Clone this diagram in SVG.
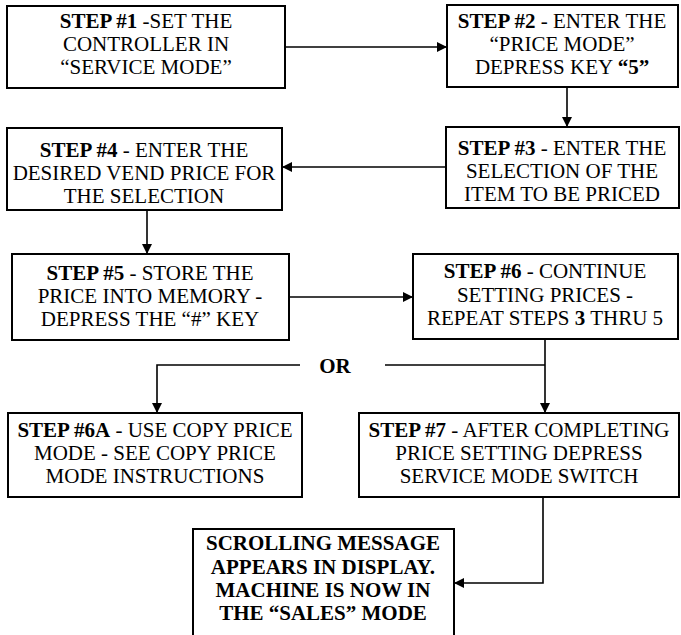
<svg xmlns="http://www.w3.org/2000/svg" width="681" height="635" viewBox="0 0 681 635">
<defs>
<marker id="ah" viewBox="0 0 10 10" refX="10" refY="5" markerWidth="10" markerHeight="10" markerUnits="userSpaceOnUse" orient="auto">
<path d="M0,0 L10,5 L0,10 z" fill="#000"/>
</marker>
<style>
.box{fill:#fff;stroke:#000;stroke-width:2}
.t{font-family:"Liberation Serif","Times New Roman",serif;font-size:21px;fill:#000;text-anchor:middle}
.b{font-weight:bold}
.c{fill:none;stroke:#000;stroke-width:1.6}
.ca{fill:none;stroke:#000;stroke-width:1.6;marker-end:url(#ah)}
</style>
</defs>
<rect width="681" height="635" fill="#fff"/>
<g id="connectors">
<line class="ca" x1="285" y1="47" x2="447" y2="47"/>
<line class="ca" x1="567" y1="87" x2="567" y2="127"/>
<line class="ca" x1="446" y1="167" x2="282" y2="167"/>
<line class="ca" x1="147" y1="210" x2="147" y2="254"/>
<line class="ca" x1="289" y1="297" x2="413" y2="297"/>
<line class="ca" x1="545" y1="339" x2="545" y2="413"/>
<line class="c" x1="545" y1="365" x2="385" y2="365"/>
<polyline class="ca" points="300,365 157,365 157,413"/>
<polyline class="ca" points="543,497 543,583 454,583"/>
<text class="t b" x="335" y="373">OR</text>
</g>
<g id="step1">
<rect class="box" x="7" y="6" width="278" height="82"/>
<text class="t" x="146" y="28"><tspan class="b">STEP #1</tspan> -SET THE</text>
<text class="t" x="146" y="51">CONTROLLER IN</text>
<text class="t" x="146" y="74">“SERVICE MODE”</text>
</g>
<g id="step2">
<rect class="box" x="447" y="5" width="231" height="82"/>
<text class="t" x="562" y="28"><tspan class="b">STEP #2</tspan> - ENTER THE</text>
<text class="t" x="562" y="51">“PRICE MODE”</text>
<text class="t" x="562" y="74">DEPRESS KEY <tspan class="b">“5”</tspan></text>
</g>
<g id="step3">
<rect class="box" x="446" y="127" width="233" height="81"/>
<text class="t" x="562" y="155"><tspan class="b">STEP #3</tspan> - ENTER THE</text>
<text class="t" x="562" y="178">SELECTION OF THE</text>
<text class="t" x="562" y="201">ITEM TO BE PRICED</text>
</g>
<g id="step4">
<rect class="box" x="7" y="128" width="275" height="82"/>
<text class="t" x="144" y="157"><tspan class="b">STEP #4</tspan> - ENTER THE</text>
<text class="t" x="144" y="180">DESIRED VEND PRICE FOR</text>
<text class="t" x="144" y="203">THE SELECTION</text>
</g>
<g id="step5">
<rect class="box" x="12" y="254" width="277" height="86"/>
<text class="t" x="150" y="280"><tspan class="b">STEP #5</tspan> - STORE THE</text>
<text class="t" x="150" y="303">PRICE INTO MEMORY -</text>
<text class="t" x="150" y="326">DEPRESS THE “#” KEY</text>
</g>
<g id="step6">
<rect class="box" x="413" y="254" width="265" height="85"/>
<text class="t" x="545" y="278"><tspan class="b">STEP #6</tspan> - CONTINUE</text>
<text class="t" x="545" y="302">SETTING PRICES -</text>
<text class="t" x="545" y="325">REPEAT STEPS <tspan class="b">3</tspan> THRU 5</text>
</g>
<g id="step6a">
<rect class="box" x="8" y="413" width="294" height="84"/>
<text class="t" x="155" y="437"><tspan class="b">STEP #6A</tspan> - USE COPY PRICE</text>
<text class="t" x="155" y="460">MODE - SEE COPY PRICE</text>
<text class="t" x="155" y="483">MODE INSTRUCTIONS</text>
</g>
<g id="step7">
<rect class="box" x="359" y="413" width="320" height="84"/>
<text class="t" x="519" y="437"><tspan class="b">STEP #7</tspan> - AFTER COMPLETING</text>
<text class="t" x="519" y="460">PRICE SETTING DEPRESS</text>
<text class="t" x="519" y="483">SERVICE MODE SWITCH</text>
</g>
<g id="sales">
<rect class="box" x="193" y="529" width="261" height="115"/>
<text class="t b" x="323" y="550">SCROLLING MESSAGE</text>
<text class="t b" x="323" y="574">APPEARS IN DISPLAY.</text>
<text class="t b" x="323" y="597">MACHINE IS NOW IN</text>
<text class="t b" x="323" y="620">THE “SALES” MODE</text>
</g>
</svg>
